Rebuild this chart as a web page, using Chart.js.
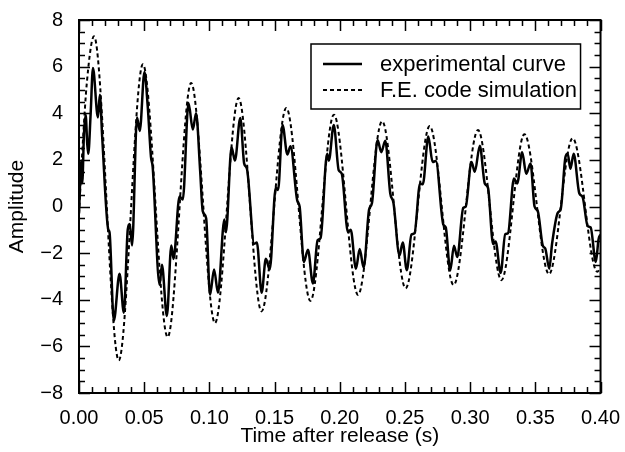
<!DOCTYPE html>
<html><head><meta charset="utf-8">
<script src="https://cdn.jsdelivr.net/npm/chart.js@4.4.1/dist/chart.umd.min.js"></script>
<style>html,body{margin:0;padding:0;background:#fff;}</style>
</head><body>
<canvas id="c" width="625" height="452"></canvas>
<script>
// ---- data ----
const expTime = [0.0000,0.0018,0.0025,0.0038,0.0051,0.0063,0.0071,0.0089,0.0107,0.0145,0.0160,0.0178,0.0224,0.0234,0.0267,0.0311,0.0344,0.0374,0.0389,0.0407,0.0445,0.0466,0.0502,0.0527,0.0552,0.0565,0.0618,0.0636,0.0674,0.0708,0.0725,0.0771,0.0796,0.0840,0.0873,0.0898,0.0929,0.0949,0.0975,0.1005,0.1036,0.1066,0.1115,0.1127,0.1170,0.1196,0.1237,0.1267,0.1288,0.1344,0.1364,0.1401,0.1433,0.1463,0.1509,0.1527,0.1561,0.1598,0.1622,0.1674,0.1692,0.1725,0.1756,0.1794,0.1830,0.1853,0.1903,0.1916,0.1954,0.1992,0.2015,0.2063,0.2084,0.2124,0.2153,0.2183,0.2225,0.2247,0.2290,0.2318,0.2349,0.2387,0.2412,0.2458,0.2483,0.2514,0.2550,0.2573,0.2616,0.2637,0.2679,0.2712,0.2737,0.2794,0.2813,0.2847,0.2876,0.2901,0.2947,0.2966,0.3010,0.3036,0.3074,0.3112,0.3137,0.3176,0.3195,0.3234,0.3269,0.3290,0.3336,0.3361,0.3399,0.3430,0.3463,0.3494,0.3519,0.3557,0.3576,0.3607,0.3628,0.3672,0.3695,0.3731,0.3748,0.3769,0.3794,0.3837,0.3863,0.3901,0.3924,0.3964,0.3985,0.4000];
const expAmp = [-0.3,1.97,1.0,3.1,3.94,2.7,2.26,3.94,5.94,3.82,4.79,2.97,-0.98,-1.1,-4.9,-2.88,-4.56,-0.98,-0.75,-1.67,3.82,3.24,5.77,4.3,2.13,1.7,-3.36,-2.5,-4.7,-1.67,-2.25,0.43,0.3,4.44,3.3,4.0,1.55,-0.2,-0.5,-3.79,-2.7,-3.7,-0.56,-1.1,2.54,1.97,3.8,1.84,1.62,-1.6,-1.54,-3.7,-2.24,-2.7,0.8,0.71,3.5,2.23,2.58,0.25,0.0,-2.38,-1.85,-3.3,-1.45,-1.35,2.26,1.97,3.5,1.55,1.41,-1.1,-1.0,-2.67,-1.82,-2.63,-0.13,0.15,2.85,2.33,2.82,0.57,0.15,-2.1,-1.54,-2.73,-1.2,-1.15,0.99,0.95,3.0,1.91,1.95,-0.77,-0.9,-2.75,-1.68,-2.17,-0.06,0.0,1.91,1.49,2.61,0.99,0.8,-1.61,-1.5,-2.85,-1.19,-1.15,1.2,0.99,2.33,1.4,1.84,0.0,-0.2,-1.68,-1.8,-2.67,-1.61,-0.27,-0.1,2.12,2.26,1.62,2.26,0.57,0.4,-0.84,-0.9,-2.38,-1.4,-1.2];
const simTime = [0.0000,0.0030,0.0060,0.0115,0.0305,0.0490,0.0680,0.0860,0.1043,0.1224,0.1400,0.1590,0.1775,0.1955,0.2140,0.2325,0.2505,0.2690,0.2873,0.3060,0.3240,0.3416,0.3605,0.3786,0.3975,0.4000];
const simAmp = [-0.3,2.8,5.3,7.3,-6.6,6.1,-5.6,5.3,-5.0,4.65,-4.5,4.23,-4.05,3.94,-3.79,3.66,-3.51,3.45,-3.37,3.28,-3.16,3.10,-2.9,2.93,-2.8,-2.6];
const seriesLabels = ['experimental curve','F.E. code simulation'];
const xTickValues = [0,0.05,0.10,0.15,0.20,0.25,0.30,0.35,0.40];
const yTickValues = [-8,-6,-4,-2,0,2,4,6,8];
const xTitle = 'Time after release (s)';
const yTitle = 'Amplitude';

const FONT = "'Liberation Sans', Arial, Helvetica, sans-serif";

const framePlugin = {
  id: 'frame',
  afterDatasetsDraw(chart) {
    const {ctx, chartArea: a, scales: {x, y}} = chart;
    ctx.save();
    ctx.strokeStyle = '#000';
    ctx.lineWidth = 1.5;
    ctx.beginPath();
    for (let i = 0; i <= 40; i++) {
      const px = Math.round(x.getPixelForValue(i / 100)) + 0.5;
      const L = (i % 5 === 0) ? 11 : 6;
      ctx.moveTo(px, a.bottom); ctx.lineTo(px, a.bottom - L);
      ctx.moveTo(px, a.top); ctx.lineTo(px, a.top + L);
    }
    for (let i = 0; i <= 32; i++) {
      const py = Math.round(y.getPixelForValue(-8 + i * 0.5)) + 0.5;
      const L = (i % 4 === 0) ? 11 : 6;
      ctx.moveTo(a.left, py); ctx.lineTo(a.left + L, py);
      ctx.moveTo(a.right, py); ctx.lineTo(a.right - L, py);
    }
    ctx.stroke();
    ctx.lineWidth = 2;
    ctx.strokeRect(a.left, a.top, a.right - a.left, a.bottom - a.top);
    ctx.restore();
  }
};

const boxLegendPlugin = {
  id: 'boxLegend',
  afterDraw(chart) {
    const {ctx, chartArea: a} = chart;
    const bx1 = a.right - 20, bx0 = a.left + 232, by0 = a.top + 24, by1 = a.top + 89;
    ctx.save();
    ctx.fillStyle = '#fff';
    ctx.fillRect(bx0, by0, bx1 - bx0, by1 - by0);
    ctx.strokeStyle = '#000';
    ctx.lineWidth = 1.5;
    ctx.strokeRect(bx0, by0, bx1 - bx0, by1 - by0);
    ctx.font = '22px ' + FONT;
    ctx.fillStyle = '#000';
    ctx.textBaseline = 'middle';
    chart.data.datasets.forEach((ds, i) => {
      const yy = by0 + 20 + i * 26;
      ctx.beginPath();
      ctx.lineWidth = ds.borderWidth;
      ctx.setLineDash(ds.borderDash || []);
      ctx.moveTo(bx0 + 12, yy); ctx.lineTo(bx0 + 51, yy);
      ctx.stroke();
      ctx.setLineDash([]);
      ctx.fillText(ds.label, bx0 + 69, yy + 1);
    });
    ctx.restore();
  }
};

new Chart(document.getElementById('c').getContext('2d'), {
  type: 'line',
  data: {
    datasets: [
      { label: seriesLabels[0], data: expTime.map((t, i) => ({x: t, y: expAmp[i]})),
        borderColor: '#000', borderWidth: 2.5, pointRadius: 0, fill: false,
        cubicInterpolationMode: 'monotone' },
      { label: seriesLabels[1], data: simTime.map((t, i) => ({x: t, y: simAmp[i]})),
        borderColor: '#000', borderWidth: 2, borderDash: [4, 3], pointRadius: 0, fill: false,
        cubicInterpolationMode: 'monotone' }
    ]
  },
  options: {
    responsive: false, animation: false, devicePixelRatio: 1,
    layout: { padding: { left: 0, right: 22, top: 14, bottom: 0 } },
    plugins: { legend: { display: false }, tooltip: { enabled: false } },
    scales: {
      x: {
        type: 'linear', min: 0, max: 0.4,
        afterBuildTicks: s => { s.ticks = xTickValues.map(v => ({value: v})); },
        afterFit: s => { s.height = 59; },
        grid: { display: false }, border: { display: false },
        ticks: { font: { family: FONT, size: 20 }, color: '#000', padding: 5, maxRotation: 0, autoSkip: false,
                 callback: v => Number(v).toFixed(2) },
        title: { display: true, text: xTitle, font: { family: FONT, size: 21 }, color: '#000', padding: { top: 0, bottom: 3 } }
      },
      y: {
        type: 'linear', min: -8, max: 8,
        afterBuildTicks: s => { s.ticks = yTickValues.map(v => ({value: v})); },
        afterFit: s => { s.width = 79; },
        grid: { display: false }, border: { display: false },
        ticks: { font: { family: FONT, size: 20 }, color: '#000', padding: 8, autoSkip: false,
                 callback: v => (v < 0 ? '\u2212' + Math.abs(v) : String(v)) },
        title: { display: true, text: yTitle, font: { family: FONT, size: 21 }, color: '#000', padding: { top: 5, bottom: 0 } }
      }
    }
  },
  plugins: [framePlugin, boxLegendPlugin]
});
</script>
</body></html>
